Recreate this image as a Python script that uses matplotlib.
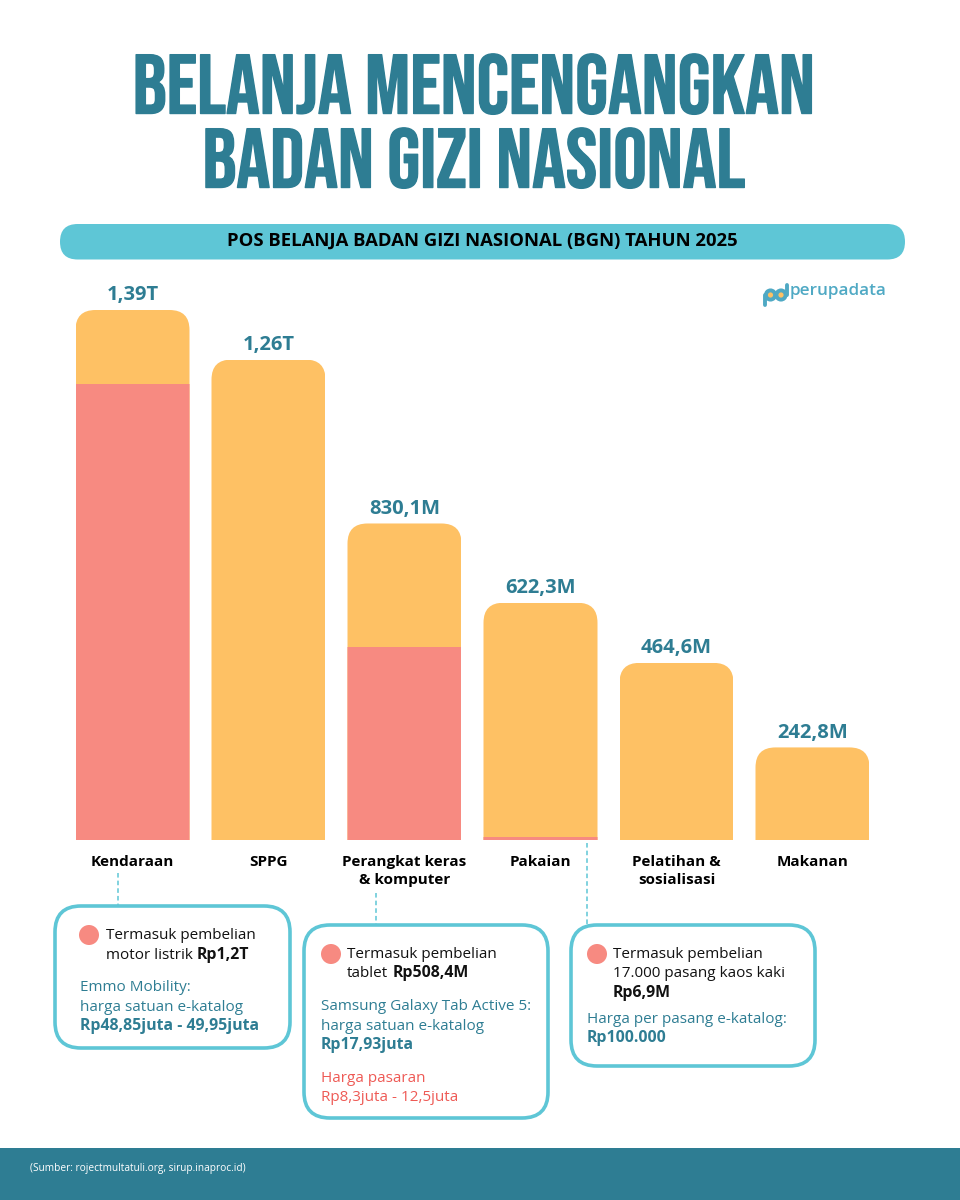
import matplotlib
matplotlib.use("Agg")
import matplotlib.pyplot as plt
import matplotlib.patheffects as pe
from matplotlib.patches import FancyBboxPatch, Circle, Rectangle
from matplotlib.transforms import IdentityTransform

W, H = 960, 1200

TEAL = "#2e7d93"
CYAN = "#5ec6d6"
ORANGE = "#fec164"
PINK = "#f78a81"
RED = "#ee5a55"
LOGO = "#4fa9c4"
TITLE_FONT = ["Bebas Neue", "Oswald", "DejaVu Sans"]

categories = ["Kendaraan", "SPPG", "Perangkat keras\n& komputer", "Pakaian",
              "Pelatihan &\nsosialisasi", "Makanan"]
totals = [1390, 1260, 830.1, 622.3, 464.6, 242.8]
included = [1197, 0, 506, 6.9, 0, 0]
value_labels = ["1,39T", "1,26T", "830,1M", "622,3M", "464,6M", "242,8M"]

plt.rcParams["font.family"] = ["Open Sans", "DejaVu Sans"]

fig = plt.figure(figsize=(W / 100, H / 100), dpi=100)

# overlay in pixel coords for the infographic furniture
bg = fig.add_axes([0, 0, 1, 1])
bg.set_xlim(0, W)
bg.set_ylim(H, 0)
bg.axis("off")

# bars get their own axes, baseline at y=840, 0.3813 px per miliar
PX_PER_M = 0.3813
ax_bottom, ax_top = 840, 290
ax = fig.add_axes([64.5 / W, 1 - ax_bottom / H, 816 / W, (ax_bottom - ax_top) / H])
ax.set_xlim(-0.5, 5.5)
ax.set_ylim(0, (ax_bottom - ax_top) / PX_PER_M)
ax.axis("off")

xs = list(range(len(categories)))
bar_w = 114 / 136
top_bars = ax.bar(xs, totals, width=bar_w, color=ORANGE, linewidth=0)
low_bars = ax.bar(xs, included, width=bar_w, color=PINK, linewidth=0)

# round the top corners by clipping, bottom of the clip hangs below the baseline
r = 20
for top, low in zip(top_bars, low_bars):
    bb = top.get_window_extent()
    clip = FancyBboxPatch((bb.x0 + r, bb.y0 - 40), bb.width - 2 * r, bb.height + 40 - r,
                          boxstyle=f"round,pad={r},rounding_size={r}",
                          transform=IdentityTransform())
    top.set_clip_path(clip)
    low.set_clip_path(clip)

for x, v, lab in zip(xs, totals, value_labels):
    ax.annotate(lab, (x, v), xytext=(0, 3.5), textcoords="offset points", ha="center", va="bottom",
                fontsize=14.5, fontweight="bold", color=TEAL)

for x, lab in zip(xs, categories):
    ax.annotate(lab, (x, 0), xytext=(0, -10.5), textcoords="offset points", ha="center", va="top",
                fontsize=11, fontweight="bold", color="black", linespacing=1.4)

# title, bebas is a bit lighter than the original so thicken it a little
title_stroke = [pe.withStroke(linewidth=1.0, foreground=TEAL)]
bg.text(474, 84, "BELANJA MENCENGANGKAN", ha="center", va="center", color=TEAL,
        fontsize=60.5, family=TITLE_FONT, path_effects=title_stroke)
bg.text(474, 158, "BADAN GIZI NASIONAL", ha="center", va="center", color=TEAL,
        fontsize=60.5, family=TITLE_FONT, path_effects=title_stroke)

# subtitle band
bg.add_patch(FancyBboxPatch((60, 224), 845, 35.5, boxstyle="round,pad=0,rounding_size=17.7",
                            fc=CYAN, ec="none"))
bg.text(482, 241, "POS BELANJA BADAN GIZI NASIONAL (BGN) TAHUN 2025", ha="center", va="center",
        fontsize=13.3, fontweight="bold", color="black")

# logo
bg.text(790, 291, "perupadata", ha="left", va="center", fontsize=12.3, fontweight="semibold",
        color=LOGO)
bg.add_patch(Circle((770.5, 295), 5.5, fc=LOGO, ec=LOGO, lw=1.5))
bg.add_patch(Circle((781, 295), 5.5, fc=LOGO, ec=LOGO, lw=1.5))
bg.plot([765, 765], [295, 305], color=LOGO, lw=2.8, solid_capstyle="round")
bg.plot([786.5, 786.5], [285, 295], color=LOGO, lw=2.8, solid_capstyle="round")
bg.add_patch(Circle((770.5, 295), 2.6, fc=ORANGE, ec="none"))
bg.add_patch(Circle((781, 295), 2.6, fc=ORANGE, ec="none"))

# dashed leaders
for x, y0, y1 in [(118, 873, 905), (376, 893, 925), (587, 843, 925)]:
    bg.plot([x, x], [y0, y1], color=CYAN, lw=1.1, ls=(0, (3, 2)))

# callout boxes
for x0, y0, x1, y1 in [(55, 906, 290, 1048), (304, 925, 548, 1118), (571, 925, 815, 1066)]:
    bg.add_patch(FancyBboxPatch((x0, y0), x1 - x0, y1 - y0, boxstyle="round,pad=0,rounding_size=26",
                                fc="white", ec=CYAN, lw=2.6))

for cx, cy in [(89, 935), (331, 954), (597, 954)]:
    bg.add_patch(Circle((cx, cy), 10, fc=PINK, ec="none"))


def callout_line(x, y, regular, bold, color):
    # regular part then bold part right after it on the same baseline
    if regular:
        t = bg.text(x, y, regular, ha="left", va="baseline", fontsize=11, color=color)
        ext = t.get_window_extent(fig.canvas.get_renderer())
        x = ext.x1 + 4 if bold else x
    if bold:
        bg.text(x, y, bold, ha="left", va="baseline", fontsize=11.4, fontweight="bold", color=color)


callout_line(106, 939, "Termasuk pembelian", "", "#111111")
callout_line(106, 959, "motor listrik", "Rp1,2T", "#111111")
callout_line(80, 991, "Emmo Mobility:", "", TEAL)
callout_line(80, 1011, "harga satuan e-katalog", "", TEAL)
callout_line(80, 1030, "", "Rp48,85juta - 49,95juta", TEAL)

callout_line(347, 958, "Termasuk pembelian", "", "#111111")
callout_line(347, 977, "tablet", "Rp508,4M", "#111111")
callout_line(321, 1010, "Samsung Galaxy Tab Active 5:", "", TEAL)
callout_line(321, 1030, "harga satuan e-katalog", "", TEAL)
callout_line(321, 1049, "", "Rp17,93juta", TEAL)
callout_line(321, 1082, "Harga pasaran", "", RED)
callout_line(321, 1101, "Rp8,3juta - 12,5juta", "", RED)

callout_line(613, 958, "Termasuk pembelian", "", "#111111")
callout_line(613, 977, "17.000 pasang kaos kaki", "", "#111111")
callout_line(613, 997, "", "Rp6,9M", "#111111")
callout_line(587, 1023, "Harga per pasang e-katalog:", "", TEAL)
callout_line(587, 1042, "", "Rp100.000", TEAL)

# footer
bg.add_patch(Rectangle((0, 1148), W, 52, fc=TEAL, ec="none"))
bg.text(30, 1168, "(Sumber: rojectmultatuli.org, sirup.inaproc.id)", ha="left", va="center",
        fontsize=7.3, color="white")

fig.savefig("out.png", dpi=100, facecolor="white")
